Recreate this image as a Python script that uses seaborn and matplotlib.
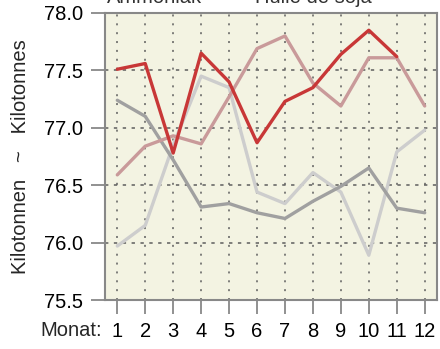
import matplotlib
matplotlib.use("Agg")
import matplotlib.pyplot as plt
import seaborn as sns
import pandas as pd

months = list(range(1, 13))
month_labels = [str(m) for m in months]
y_ticks = [75.5, 76.0, 76.5, 77.0, 77.5, 78.0]

series_names = ["Ammoniak", "Huile de soja", "Reihe 3", "Reihe 4"]
red_vals = [77.51, 77.56, 76.78, 77.65, 77.40, 76.87, 77.23, 77.35, 77.64, 77.85, 77.62, None]
pink_vals = [76.59, 76.84, 76.93, 76.86, 77.27, 77.69, 77.80, 77.39, 77.19, 77.61, 77.61, 77.19]
dark_vals = [77.24, 77.10, 76.72, 76.31, 76.34, 76.26, 76.21, 76.36, 76.49, 76.65, 76.30, 76.26]
light_vals = [75.97, 76.15, 76.85, 77.45, 77.35, 76.44, 76.34, 76.61, 76.44, 75.89, 76.79, 76.98]

colors = ["#C83737", "#C99A9A", "#A0A0A0", "#CDCDCD"]

frames = []
for name, vals in zip(series_names, [red_vals, pink_vals, dark_vals, light_vals]):
    frames.append(pd.DataFrame({"Monat": months, "Wert": vals, "Reihe": name}))
df = pd.concat(frames, ignore_index=True).dropna()

sns.set_style("ticks")
plt.rcParams["font.family"] = ["Liberation Sans", "DejaVu Sans"]

fig = plt.figure(figsize=(4.4, 3.49), dpi=100)
ax = fig.add_axes([105 / 440, 49 / 349, 332 / 440, 287 / 349])
ax.set_facecolor("#F3F3E2")

# grid first so the lines sit on top
for m in months:
    ax.axvline(m, color="#5E5E5E", lw=1.1, ls=(0, (1.3, 4.5)), zorder=1)
for t in y_ticks[1:-1]:
    ax.axhline(t, color="#5E5E5E", lw=1.1, ls=(0, (2.2, 3.6)), zorder=1)

draw_order = ["Reihe 4", "Reihe 3", "Huile de soja", "Ammoniak"]
palette = dict(zip(series_names, colors))
for name in draw_order:
    sns.lineplot(data=df[df["Reihe"] == name], x="Monat", y="Wert",
                 color=palette[name], lw=2.4, ax=ax, zorder=3, legend=False)

ax.set_xlim(0.56, 12.44)
ax.set_ylim(75.5, 78.0)
ax.set_xticks(months)
ax.set_xticklabels(month_labels)
ax.set_yticks(y_ticks)
ax.set_yticklabels([f"{t:.1f}" for t in y_ticks])
ax.tick_params(axis="both", length=10, width=1.3, color="#888888",
               labelsize=14.5, pad=6, labelcolor="black")
for sp in ax.spines.values():
    sp.set_color("#888888")
    sp.set_linewidth(1.5)

ax.set_xlabel("")
ax.set_ylabel("Kilotonnen   ~   Kilotonnes", fontsize=14.5, labelpad=10)
fig.text(40 / 440, 1 - 330 / 349, "Monat:", fontsize=14.5, va="center", ha="left")

# legend row along the top edge
fig.text(107 / 440, 1 - 3 / 349, series_names[0], fontsize=14.5, va="baseline",
         ha="left", color="#333333")
fig.text(255 / 440, 1 - 3 / 349, series_names[1], fontsize=14.5, va="baseline",
         ha="left", color="#333333")

fig.savefig("out.png", dpi=100)
